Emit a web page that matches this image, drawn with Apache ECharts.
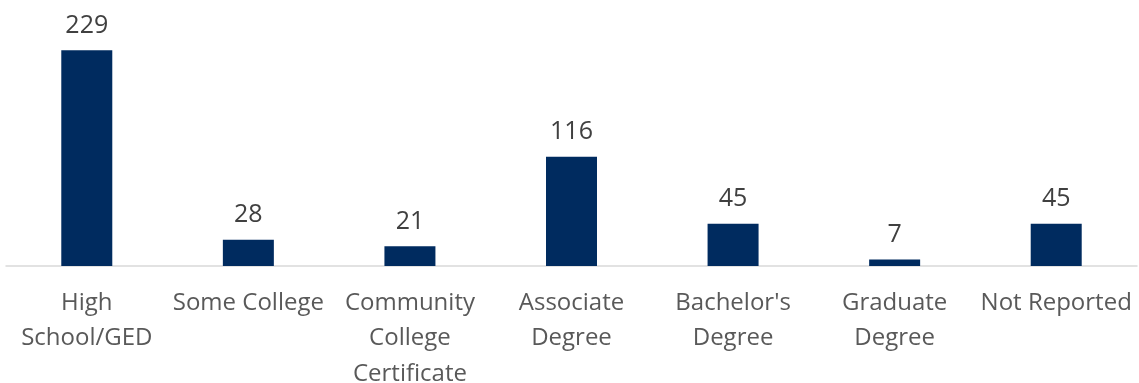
<!DOCTYPE html>
<html>
<head>
<meta charset="utf-8">
<script src="https://cdn.jsdelivr.net/npm/echarts@6/dist/echarts.min.js"></script>
<style>
  html, body { margin: 0; padding: 0; background: #fff; }
  #chart { width: 1139px; height: 383px; }
</style>
</head>
<body>
<div id="chart"></div>
<script>
// Education level categories (line breaks as displayed under the axis)
const categories = [
  'High\nSchool/GED',
  'Some College',
  'Community\nCollege\nCertificate',
  'Associate\nDegree',
  "Bachelor's\nDegree",
  'Graduate\nDegree',
  'Not Reported'
];
// Head count per education level
const counts = [229, 28, 21, 116, 45, 7, 45];

const FONT = '"Open Sans", Lato, sans-serif';

const chart = echarts.init(document.getElementById('chart'));
chart.setOption({
  animation: false,
  textStyle: { fontFamily: FONT },
  grid: {
    left: 6, right: 2, top: 40, bottom: 117,
    containLabel: false,
    outerBoundsMode: 'none'
  },
  xAxis: {
    type: 'category',
    data: categories,
    axisLine: { show: true, lineStyle: { color: '#d9d9d9', width: 1.5 } },
    axisTick: { show: false },
    axisLabel: {
      interval: 0,
      margin: 19,
      color: '#595959',
      fontSize: 24,
      lineHeight: 35.5,
      fontFamily: FONT
    }
  },
  yAxis: {
    type: 'value',
    min: 0,
    max: 240,
    show: false,
    splitLine: { show: false }
  },
  series: [{
    type: 'bar',
    data: counts,
    barWidth: 51,
    itemStyle: { color: '#002b5f' },
    label: {
      show: true,
      position: 'top',
      distance: 12,
      color: '#404040',
      fontSize: 25,
      fontFamily: FONT
    }
  }]
});
</script>
</body>
</html>
